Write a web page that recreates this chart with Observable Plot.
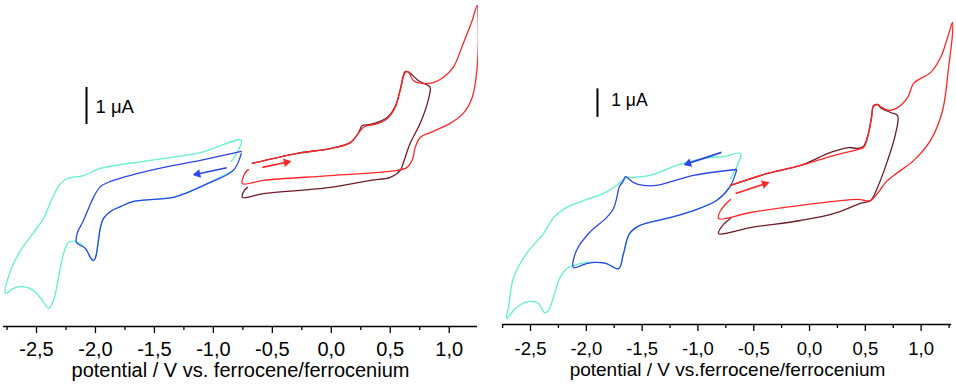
<!DOCTYPE html>
<html><head><meta charset="utf-8">
<script src="https://cdn.jsdelivr.net/npm/d3@7"></script>
<script src="https://cdn.jsdelivr.net/npm/@observablehq/plot@0.6"></script>
<style>
html,body{margin:0;padding:0;background:#fff;}
#wrap{display:flex;width:956px;height:384px;overflow:hidden;}
#wrap svg{display:block;overflow:visible;}
</style></head><body><div id="wrap"></div>
<script>
// ---------- tick labels / texts ----------
const majorTicks = [-2.5, -2.0, -1.5, -1.0, -0.5, 0.0, 0.5, 1.0];
const minorTicks = [-2.75, -2.25, -1.75, -1.25, -0.75, -0.25, 0.25, 0.75, 1.25];
const titleLeft = ["potential / V vs. ferrocene/ferrocenium"];
const titleRight = ["potential / V vs.ferrocene/ferrocenium"];
const scaleText = "1 μA";

// ---------- colours ----------
const cCyan = "#62f0cf", cBlue = "#2c46e8", cRed = "#ff2626", cDark = "#6e1c25";

// ---------- left panel: [potential / V, current / µA] ----------
const leftCyan = [
  [-0.847,4.46],[-0.763,5.03],[-1.110,4.70],[-1.534,4.49],[-1.958,4.27],[-2.102,4.08],
  [-2.237,4.00],[-2.297,3.86],[-2.356,3.54],[-2.441,2.92],[-2.525,2.54],[-2.636,2.05],
  [-2.720,1.51],[-2.763,0.89],[-2.695,1.03],[-2.610,1.08],[-2.525,0.97],[-2.449,0.70],
  [-2.398,0.49],[-2.356,0.70],[-2.314,1.32],[-2.271,1.97],[-2.229,2.27],[-2.169,2.30],
  [-2.085,2.11],[-2.042,1.86],[-2.017,1.78],[-2.000,1.86],[-1.975,2.32],[-1.958,2.68],
  [-1.932,2.92],[-1.873,3.11],[-1.788,3.24],[-1.678,3.38],[-1.339,3.49],[-1.220,3.62],
  [-1.051,3.86],[-0.831,4.22]
];
const leftBlue = [
  [-0.763,4.73],[-1.110,4.49],[-1.534,4.22],[-1.873,3.92],[-1.958,3.78],[-2.017,3.49],
  [-2.059,3.19],[-2.110,2.81],[-2.153,2.54],[-2.161,2.27],[-2.085,2.11],[-2.042,1.86],
  [-2.017,1.78],[-2.000,1.86],[-1.975,2.32],[-1.958,2.68],[-1.932,2.92],[-1.873,3.11],
  [-1.788,3.24],[-1.678,3.38],[-1.339,3.49],[-1.220,3.62],[-1.051,3.86],[-0.831,4.22],
  [-0.763,4.68]
];
const leftDark = [
  [-0.669,4.41],[-0.288,4.68],[-0.008,4.81],[0.161,4.97],[0.229,5.22],[0.263,5.43],
  [0.331,5.46],[0.475,5.65],[0.542,5.95],[0.585,6.41],[0.627,6.89],[0.661,6.86],
  [0.737,6.65],[0.822,6.51],[0.839,6.46],[0.822,6.11],[0.754,5.49],[0.669,4.95],
  [0.610,4.41],[0.585,4.22],[0.500,4.03],[0.331,3.95],[-0.008,3.76],[-0.576,3.59],
  [-0.754,3.49],[-0.737,3.68],[-0.712,3.76]
];
const leftRed = [
  [-0.669,4.41],[-0.288,4.68],[-0.008,4.81],[0.161,4.97],[0.229,5.22],[0.271,5.38],
  [0.305,5.43],[0.373,5.46],[0.475,5.62],[0.542,5.92],[0.585,6.38],[0.627,6.86],
  [0.653,6.89],[0.695,6.65],[0.771,6.57],[0.864,6.59],[0.949,6.73],[1.034,7.00],
  [1.119,7.65],[1.195,8.27],[1.237,8.68],[1.246,8.27],[1.237,7.00],[1.195,6.19],
  [1.119,5.76],[1.008,5.49],[0.839,5.24],[0.754,5.11],[0.712,4.84],[0.686,4.49],
  [0.644,4.30],[0.559,4.22],[-0.008,4.08],[-0.576,3.95],[-0.754,3.86],[-0.729,4.16],
  [-0.703,4.24]
];
const leftArrows = [
  {x1:-0.886, y1:4.29, x2:-1.167, y2:4.10, color:cBlue},
  {x1:-0.585, y1:4.30, x2:-0.347, y2:4.46, color:cRed}
];
const leftBar = {x:-2.076, y1:5.46, y2:6.46, tx:-2.0, ty:5.92};

// ---------- right panel ----------
const rightCyan = [
  [-0.708,5.12],[-0.618,6.00],[-0.771,5.89],[-0.896,5.86],[-1.192,5.58],[-1.308,5.40],
  [-1.434,5.23],[-1.577,5.16],[-1.640,5.16],[-1.729,4.88],[-1.846,4.60],[-2.025,4.35],
  [-2.177,4.11],[-2.294,3.75],[-2.384,3.19],[-2.536,2.49],[-2.652,1.65],[-2.697,0.60],
  [-2.715,0.21],[-2.625,0.60],[-2.509,0.81],[-2.428,0.74],[-2.375,0.42],[-2.339,0.49],
  [-2.285,1.09],[-2.240,1.61],[-2.177,1.96],[-2.115,2.07],[-1.998,2.18],[-1.909,2.18],
  [-1.819,2.14],[-1.711,1.96],[-1.667,2.49],[-1.613,3.19],[-1.523,3.47],[-1.281,3.72],
  [-1.039,4.00],[-0.833,4.35],[-0.717,4.81]
];
const rightBlue = [
  [-0.654,5.44],[-1.039,5.23],[-1.371,4.88],[-1.487,4.88],[-1.577,4.98],[-1.649,5.19],
  [-1.667,5.05],[-1.703,4.84],[-1.729,4.42],[-1.756,4.07],[-1.819,3.75],[-1.971,3.23],
  [-2.088,2.60],[-2.115,2.00],[-1.998,2.14],[-1.909,2.18],[-1.819,2.14],[-1.711,1.96],
  [-1.667,2.49],[-1.613,3.19],[-1.523,3.47],[-1.281,3.72],[-1.039,4.00],[-0.833,4.35],
  [-0.717,4.81],[-0.654,5.40]
];
const rightDark = [
  [-0.708,4.88],[-0.376,5.30],[-0.081,5.58],[0.188,6.04],[0.350,6.21],[0.430,6.18],
  [0.484,6.25],[0.529,6.74],[0.556,7.30],[0.573,7.68],[0.609,7.72],[0.636,7.61],
  [0.726,7.44],[0.789,7.33],[0.771,6.70],[0.699,5.75],[0.609,4.81],[0.547,4.35],
  [0.457,4.25],[0.215,3.89],[-0.081,3.65],[-0.529,3.40],[-0.815,3.19],[-0.780,3.47],
  [-0.708,3.72]
];
const rightRed = [
  [-0.708,4.88],[-0.376,5.30],[-0.081,5.58],[0.215,5.93],[0.430,6.14],[0.484,6.21],
  [0.529,6.70],[0.556,7.26],[0.573,7.65],[0.609,7.72],[0.636,7.65],[0.708,7.51],
  [0.789,7.61],[0.878,7.96],[0.932,8.46],[0.995,8.63],[1.084,8.84],[1.174,9.37],
  [1.237,10.07],[1.281,10.60],[1.281,10.21],[1.246,9.02],[1.192,7.51],[1.084,6.46],
  [0.932,5.75],[0.789,5.33],[0.681,4.98],[0.609,4.60],[0.547,4.35],[0.430,4.39],
  [-0.081,4.18],[-0.529,3.93],[-0.815,3.72],[-0.797,4.00],[-0.708,4.39]
];
const rightArrows = [
  {x1:-0.789, y1:6.04, x2:-1.120, y2:5.61, color:cBlue},
  {x1:-0.663, y1:4.60, x2:-0.367, y2:4.98, color:cRed}
];
const rightBar = {x:-1.900, y1:7.27, y2:8.27, tx:-1.777, ty:7.86};

const fmt = d => d.toFixed(1).replace(".", ",");
const FONT = "'Liberation Sans', Arial, sans-serif";

function panel(cfg) {
  const sx = (cfg.width - cfg.marginLeft - cfg.marginRight) / (cfg.xDomain[1] - cfg.xDomain[0]);
  const sy = (cfg.height - cfg.marginTop - cfg.marginBottom) / (cfg.yDomain[1] - cfg.yDomain[0]);
  const heads = cfg.arrows.map(a => {
    const dx = (a.x2 - a.x1) * sx, dy = -(a.y2 - a.y1) * sy;
    const len = Math.hypot(dx, dy), ux = dx / len, uy = dy / len, back = 4;
    return {x: a.x2 - ux * back / sx, y: a.y2 + uy * back / sy,
            rotate: Math.atan2(dx, -dy) * 180 / Math.PI, color: a.color, x1: a.x1, y1: a.y1};
  });
  const lineOpts = (color) => ({x: d => d[0], y: d => d[1], stroke: color, strokeWidth: 1.3, curve: "catmull-rom"});
  return Plot.plot({
    width: cfg.width, height: cfg.height,
    marginLeft: cfg.marginLeft, marginRight: cfg.marginRight,
    marginTop: cfg.marginTop, marginBottom: cfg.marginBottom,
    style: {fontFamily: FONT, background: "white", color: "black", overflow: "visible"},
    x: {domain: cfg.xDomain},
    y: {domain: cfg.yDomain, axis: null},
    marks: [
      Plot.line(cfg.cyan, lineOpts(cCyan)),
      Plot.line(cfg.blue, lineOpts(cBlue)),
      Plot.line(cfg.dark, lineOpts(cDark)),
      Plot.line(cfg.red, lineOpts(cRed)),
      Plot.link(heads, {x1: "x1", y1: "y1", x2: "x", y2: "y", stroke: "color", strokeWidth: 1.6}),
      Plot.dot(heads, {x: "x", y: "y", fill: "color", stroke: "none", symbol: "triangle2", r: 4.2, rotate: "rotate"}),
      Plot.ruleX([cfg.bar], {x: "x", y1: "y1", y2: "y2", stroke: "black", strokeWidth: 2}),
      Plot.text([scaleText], {x: () => cfg.bar.tx, y: () => cfg.bar.ty, text: d => d, textAnchor: "start", fontSize: cfg.barFont, fill: "black"}),
      Plot.ruleY([cfg.yDomain[0]], {stroke: "black", strokeWidth: 1.5}),
      Plot.axisX({ticks: majorTicks, tickSize: 7, tickPadding: cfg.tickPad, tickFormat: fmt, fontSize: cfg.tickFont, label: null, stroke: "black", strokeWidth: 1.3, fill: "black"}),
      Plot.axisX({ticks: minorTicks, tickSize: 4, tickFormat: () => "", label: null, stroke: "black", strokeWidth: 1.3}),
      Plot.text(cfg.title, {frameAnchor: "bottom", dy: cfg.titleDy, text: d => d, fontSize: cfg.titleFont, fill: "black", lineAnchor: "middle"})
    ]
  });
}

const wrap = document.getElementById("wrap");
wrap.appendChild(panel({
  width: 478, height: 384, marginLeft: 3, marginRight: 1, marginTop: 0, marginBottom: 58,
  xDomain: [-2.78, 1.24], yDomain: [0, 8.81],
  cyan: leftCyan, blue: leftBlue, dark: leftDark, red: leftRed,
  arrows: leftArrows, bar: leftBar, barFont: 18.5,
  tickFont: 20, tickPad: 8, title: titleLeft, titleFont: 20, titleDy: 44
}));
wrap.appendChild(panel({
  width: 478, height: 384, marginLeft: 25, marginRight: 5, marginTop: 0, marginBottom: 60,
  xDomain: [-2.742, 1.272], yDomain: [0, 11.37],
  cyan: rightCyan, blue: rightBlue, dark: rightDark, red: rightRed,
  arrows: rightArrows, bar: rightBar, barFont: 17.5,
  tickFont: 18.5, tickPad: 10, title: titleRight, titleFont: 19, titleDy: 45
}));
</script></body></html>
